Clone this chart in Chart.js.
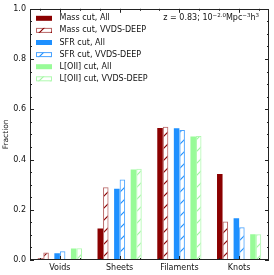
<!DOCTYPE html>
<html>
<head>
<meta charset="utf-8">
<script src="https://cdn.jsdelivr.net/npm/chart.js@4/dist/chart.umd.min.js"></script>
<style>
	html, body { margin: 0; padding: 0; background: #fff; }
	#wrap { width: 274px; height: 275px; }
</style>
</head>
<body>
<div id="wrap"><canvas id="c"></canvas></div>
<script>
var categories = ['Voids', 'Sheets', 'Filaments', 'Knots'];
var massAll = [0.006, 0.125, 0.525, 0.342];
var massDeep = [0.030, 0.290, 0.530, 0.153];
var sfrAll = [0.027, 0.284, 0.524, 0.166];
var sfrDeep = [0.035, 0.320, 0.518, 0.130];
var oiiAll = [0.046, 0.360, 0.492, 0.103];
var oiiDeep = [0.047, 0.363, 0.494, 0.103];
var yTicks = [0, 0.2, 0.4, 0.6, 0.8, 1.0];

var FONT = 'DejaVu Sans';

function hatch(color) {
	var c = document.createElement('canvas');
	c.width = 12; c.height = 12;
	var g = c.getContext('2d');
	g.strokeStyle = color;
	g.lineWidth = 1.2;
	g.beginPath();
	g.moveTo(0, 12); g.lineTo(12, 0);
	g.moveTo(-2, 2); g.lineTo(2, -2);
	g.moveTo(10, 14); g.lineTo(14, 10);
	g.stroke();
	return g.createPattern(c, 'repeat');
}

function solid(label, data, color) {
	return { label: label, data: data, backgroundColor: color, borderWidth: 0 };
}

function hatched(label, data, line, edge) {
	return { label: label, data: data, backgroundColor: hatch(line), borderColor: edge,
		borderWidth: 1, borderSkipped: 'bottom', hatched: true };
}

function spacer() {
	return { label: '', data: categories.map(function() { return null; }), spacer: true };
}

var datasets = [
	solid('Mass cut, All', massAll, '#8b0000'),
	hatched('Mass cut, VVDS-DEEP', massDeep, '#8b0000', 'rgba(139,0,0,0.6)'),
	spacer(),
	solid('SFR cut, All', sfrAll, '#1e90ff'),
	hatched('SFR cut, VVDS-DEEP', sfrDeep, '#1e90ff', '#4aa3ff'),
	spacer(),
	solid('L[OII] cut, All', oiiAll, '#98fb98'),
	hatched('L[OII] cut, VVDS-DEEP', oiiDeep, '#a0f6a0', '#b0f9b0')
];

// ticks pointing inward, frame, legend and the label in the corner
var decor = {
	id: 'decor',
	afterDatasetsDraw: function(chart) {
		var ctx = chart.ctx, a = chart.chartArea;
		var xs = chart.scales.x, ys = chart.scales.y;
		ctx.save();
		ctx.strokeStyle = '#222';
		ctx.lineWidth = 1;
		ctx.beginPath();
		for (var v = 0; v <= 20; v++) {
			var y = Math.round(ys.getPixelForValue(v * 0.05)) + 0.5;
			var len = v % 4 === 0 ? 4 : 2;
			ctx.moveTo(a.left, y); ctx.lineTo(a.left + len, y);
			ctx.moveTo(a.right, y); ctx.lineTo(a.right - len, y);
		}
		var step = xs.getPixelForValue(1) - xs.getPixelForValue(0);
		for (var i = 0; i < categories.length; i++) {
			var cx = xs.getPixelForValue(i);
			[-1, 0, 1].forEach(function(k) {
				var x = Math.round(cx + k * step / 3) + 0.5;
				if (x <= a.left || x >= a.right) return;
				var len = k === 0 ? 4 : 2;
				ctx.moveTo(x, a.bottom); ctx.lineTo(x, a.bottom - len);
				ctx.moveTo(x, a.top); ctx.lineTo(x, a.top + len);
			});
		}
		ctx.stroke();
		ctx.strokeRect(Math.round(a.left) + 0.5, Math.round(a.top) + 0.5,
			Math.round(a.right - a.left) - 1, Math.round(a.bottom - a.top) - 1);

		// legend
		ctx.font = '8px "' + FONT + '"';
		ctx.textBaseline = 'middle';
		ctx.textAlign = 'left';
		var row = 0;
		chart.data.datasets.forEach(function(ds) {
			if (ds.spacer) return;
			var yc = a.top + 9.5 + row * 12.1;
			var bx = a.left + 6, bw = 16, bh = 5;
			if (ds.hatched) {
				ctx.fillStyle = '#fff';
				ctx.fillRect(bx, yc - bh / 2, bw, bh);
				ctx.fillStyle = ds.backgroundColor;
				ctx.fillRect(bx, yc - bh / 2, bw, bh);
				ctx.strokeStyle = ds.borderColor;
				ctx.strokeRect(bx + 0.5, yc - bh / 2 + 0.5, bw - 1, bh - 1);
			} else {
				ctx.fillStyle = ds.backgroundColor;
				ctx.fillRect(bx, yc - bh / 2, bw, bh);
			}
			ctx.fillStyle = '#111';
			ctx.fillText(ds.label, a.left + 29.5, yc);
			row++;
		});

		// density label, right aligned
		var parts = [['z = 0.83; 10', 8, 0], ['\u22122.0', 5.5, -3], ['Mpc', 8, 0],
			['\u22123', 5.5, -3], ['h', 8, 0], ['3', 5.5, -3]];
		var total = 0;
		parts.forEach(function(p) {
			ctx.font = p[1] + 'px "' + FONT + '"';
			total += ctx.measureText(p[0]).width;
		});
		var x = a.right - 10 - total, base = a.top + 11.5;
		ctx.textBaseline = 'alphabetic';
		ctx.fillStyle = '#111';
		parts.forEach(function(p) {
			ctx.font = p[1] + 'px "' + FONT + '"';
			ctx.fillText(p[0], x, base + p[2]);
			x += ctx.measureText(p[0]).width;
		});
		ctx.restore();
	}
};

new Chart(document.getElementById('c'), {
	type: 'bar',
	data: { labels: categories, datasets: datasets },
	options: {
		responsive: true,
		maintainAspectRatio: false,
		animation: false,
		devicePixelRatio: 1,
		layout: { padding: { top: 7, right: 5, left: 0, bottom: 0 } },
		datasets: { bar: { categoryPercentage: 0.74, barPercentage: 1.0 } },
		plugins: { legend: { display: false }, tooltip: { enabled: false } },
		scales: {
			x: {
				offset: true,
				grid: { display: false, drawTicks: false },
				border: { display: false },
				ticks: { color: '#111', font: { family: FONT, size: 8 }, padding: 3, maxRotation: 0 },
				afterFit: function(s) { s.height = 15; }
			},
			y: {
				min: 0, max: 1,
				afterBuildTicks: function(s) { s.ticks = yTicks.map(function(v) { return { value: v }; }); },
				grid: { display: false, drawTicks: false },
				border: { display: false },
				ticks: { color: '#111', font: { family: FONT, size: 8 }, padding: 4,
					callback: function(v) { return v.toFixed(1); } },
				title: { display: true, text: 'Fraction', color: '#111',
					font: { family: FONT, size: 7.5 }, padding: { top: 2, bottom: 0 } },
				afterFit: function(s) { s.width = 30; }
			}
		}
	},
	plugins: [decor]
});
</script>
</body>
</html>
